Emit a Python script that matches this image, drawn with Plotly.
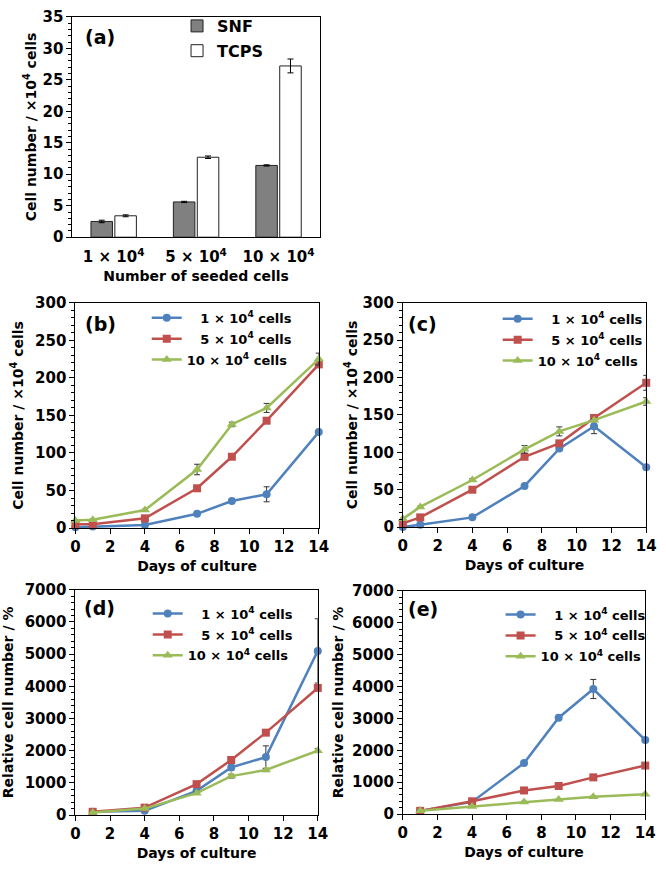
import plotly.graph_objects as go

# ---------------- data ----------------
seed_labels = ["1 × 10<sup>4</sup>", "5 × 10<sup>4</sup>", "10 × 10<sup>4</sup>"]
snf = [2.5, 5.6, 11.4]
snf_err = [0.2, 0.1, 0.1]
tcps = [3.4, 12.7, 27.2]
tcps_err = [0.15, 0.2, 1.1]

days_bc = [0, 1, 4, 7, 9, 11, 14]
b_1 = [1, 2, 4, 19, 36, 45, 128]
b_1_err = [0.5, 0.5, 0.5, 1, 1, 10, 2]
b_5 = [5, 5, 13, 53, 95, 143, 218]
b_5_err = [1, 1, 1, 2, 2, 2, 3]
b_10 = [10, 11, 24, 78, 138, 160, 225]
b_10_err = [1, 1, 1, 7, 3, 6, 8]

c_1 = [0, 3, 13, 55, 105, 135, 80]
c_1_err = [0, 0.5, 1, 2, 3, 10, 2]
c_5 = [5, 13, 50, 94, 112, 146, 193]
c_5_err = [1, 1, 2, 2, 3, 2, 10]
c_10 = [11, 27, 63, 104, 128, 143, 168]
c_10_err = [1, 1, 2, 5, 6, 2, 5]

days_de = [1, 4, 7, 9, 11, 14]
d_1 = [100, 130, 750, 1480, 1800, 5100]
d_1_err = [0, 20, 50, 80, 350, 1000]
d_5 = [100, 230, 960, 1710, 2560, 3950]
d_5_err = [0, 20, 50, 60, 60, 80]
d_10 = [80, 200, 680, 1210, 1400, 2000]
d_10_err = [0, 20, 40, 60, 50, 60]

e_1 = [100, 380, 1600, 3020, 3920, 2320]
e_1_err = [0, 20, 50, 60, 300, 60]
e_5 = [100, 400, 740, 880, 1150, 1520]
e_5_err = [0, 20, 30, 30, 40, 50]
e_10 = [100, 240, 380, 460, 540, 620]
e_10_err = [0, 10, 20, 20, 20, 30]

series_names = ["\u2007\u00a01 × 10<sup>4</sup> cells", "\u2007\u00a05 × 10<sup>4</sup> cells", "10 × 10<sup>4</sup> cells"]
colors = ["#4F81BD", "#C0504D", "#9BBB59"]
symbols = ["circle", "square", "triangle-up"]

W, H = 666, 873
FONT = "DejaVu Sans"

def px_x(a, b):
    return [a / W, b / W]

def px_y(top, bottom):
    return [1 - bottom / H, 1 - top / H]

fig = go.Figure()

# ---------------- panel (a) ----------------
fig.add_trace(go.Bar(
    x=seed_labels, y=snf, name="SNF", marker=dict(color="#808080", line=dict(color="#222", width=1)),
    error_y=dict(type="data", array=snf_err, color="black", thickness=1, width=3),
    legendgroup="snf", xaxis="x", yaxis="y", legend="legend"))
fig.add_trace(go.Bar(
    x=seed_labels, y=tcps, name="TCPS", marker=dict(color="white", line=dict(color="#222", width=1)),
    error_y=dict(type="data", array=tcps_err, color="black", thickness=1, width=3),
    legendgroup="tcps", xaxis="x", yaxis="y", legend="legend"))

def add_lines(days, vals, errs, xa, ya, leg):
    for i in range(3):
        fig.add_trace(go.Scatter(
            x=days, y=vals[i], name=series_names[i], mode="lines+markers",
            line=dict(color=colors[i], width=2.5),
            marker=dict(color=colors[i], symbol=symbols[i], size=8 if i < 2 else 9),
            error_y=dict(type="data", array=errs[i], color="#333", thickness=1, width=3),
            cliponaxis=False, legendgroup=leg + str(i),
            xaxis=xa, yaxis=ya, legend=leg))

add_lines(days_bc, [b_1, b_5, b_10], [b_1_err, b_5_err, b_10_err], "x2", "y2", "legend2")
add_lines(days_bc, [c_1, c_5, c_10], [c_1_err, c_5_err, c_10_err], "x3", "y3", "legend3")
add_lines(days_de, [d_1, d_5, d_10], [d_1_err, d_5_err, d_10_err], "x4", "y4", "legend4")
add_lines(days_de, [e_1, e_5, e_10], [e_1_err, e_5_err, e_10_err], "x5", "y5", "legend5")

tickfont = dict(family=FONT, size=15, color="black", weight="bold")
titlefont = dict(family=FONT, size=14, color="black", weight="bold")

def xax(dom, anchor, title):
    return dict(domain=dom, anchor=anchor, range=[0, 14], dtick=2, tick0=0,
                showline=True, linecolor="black", linewidth=1, mirror=True,
                ticks="outside", ticklen=5, tickcolor="black",
                showgrid=False, zeroline=False, tickfont=tickfont,
                title=dict(text=title, font=titlefont, standoff=6))

def yax(dom, anchor, rng, dt, mdt, title, standoff=8):
    return dict(domain=dom, anchor=anchor, range=rng, dtick=dt, tick0=0,
                showline=True, linecolor="black", linewidth=1, mirror=True,
                ticks="outside", ticklen=5, tickcolor="black",
                minor=dict(dtick=mdt, ticks="outside", ticklen=3, tickcolor="black", showgrid=False),
                showgrid=False, zeroline=False, tickfont=tickfont,
                title=dict(text=title, font=titlefont, standoff=standoff))

cell_title = "Cell number / ×10<sup>4</sup> cells"
rel_title = "Relative cell number / %"
days_title = "Days of culture"

legend_common = dict(bgcolor="rgba(0,0,0,0)", borderwidth=0,
                     font=dict(family=FONT, size=13, color="black", weight="bold"),
                     xanchor="left", yanchor="top", tracegroupgap=1, traceorder="grouped")

fig.update_layout(
    width=W, height=H, margin=dict(l=0, r=0, t=0, b=0), autosize=False,
    paper_bgcolor="white", plot_bgcolor="white",
    font=dict(family=FONT, size=14, color="black", weight="bold"),
    barmode="group", bargap=0.42, bargroupgap=0.1,
    xaxis=dict(domain=px_x(69, 322), anchor="y", showline=True, linecolor="black", mirror=True,
               ticks="", showgrid=False, tickfont=tickfont, ticklabelstandoff=6,
               title=dict(text="Number of seeded cells", font=titlefont, standoff=6)),
    yaxis=yax(px_y(8, 233), "x", [0, 35], 5, 1, cell_title, standoff=2),
    xaxis2=xax(px_x(72, 321), "y2", days_title),
    yaxis2=yax(px_y(300, 530), "x2", [0, 300], 50, 10, cell_title),
    xaxis3=xax(px_x(407, 656), "y3", days_title),
    yaxis3=yax(px_y(300, 529), "x3", [0, 300], 50, 10, cell_title, standoff=1),
    xaxis4=xax(px_x(72, 320), "y4", days_title),
    yaxis4=yax(px_y(593, 823), "x4", [0, 7000], 1000, 200, rel_title),
    xaxis5=xax(px_x(407, 655), "y5", days_title),
    yaxis5=yax(px_y(594, 822), "x5", [0, 7000], 1000, 200, rel_title, standoff=5),
    legend=dict(legend_common, x=176 / W, y=1 - 0 / H, tracegroupgap=1,
                font=dict(family=FONT, size=16, color="black", weight="bold")),
    legend2=dict(legend_common, x=145 / W, y=1 - 300 / H),
    legend3=dict(legend_common, x=504 / W, y=1 - 301 / H),
    legend4=dict(legend_common, x=146 / W, y=1 - 602 / H),
    legend5=dict(legend_common, x=507 / W, y=1 - 603 / H),
)

labels = [("(a)", 80, 29), ("(b)", 80, 322), ("(c)", 410, 322), ("(d)", 79, 612), ("(e)", 410, 613)]
for txt, xp, yp in labels:
    fig.add_annotation(text=txt, x=xp / W, y=1 - yp / H, xref="paper", yref="paper",
                       xanchor="left", yanchor="middle", showarrow=False,
                       font=dict(family=FONT, size=19, color="black", weight="bold"))

fig.write_html("out.html", config={"displayModeBar": False},
               post_script="document.body.style.margin='0px';")
